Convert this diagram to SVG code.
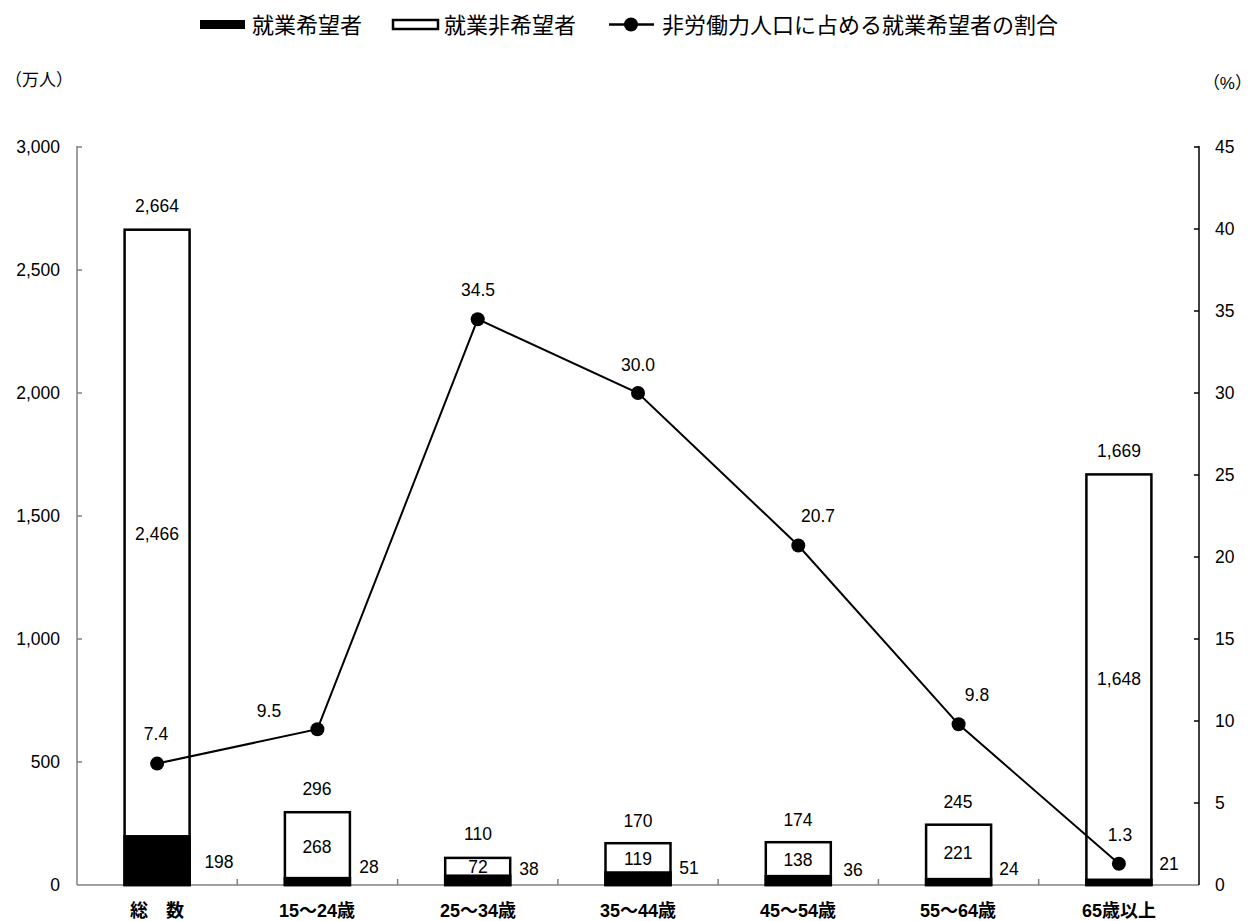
<svg xmlns="http://www.w3.org/2000/svg" width="1252" height="921" viewBox="0 0 1252 921">
<style>
text{font-family:"Liberation Sans","Noto Sans CJK JP",sans-serif;fill:#000}
.n{font-size:17.5px;text-anchor:middle}
.lg{font-size:22px}
.ax{font-size:17.5px;text-anchor:end}
.ar{font-size:17.5px}
.cat{font-size:18px;font-weight:bold;text-anchor:middle}
.unit{font-size:17px}
.bar{fill:#fff;stroke:#000;stroke-width:2.5}
.hope{fill:#000;stroke:#000;stroke-width:2.5}
.tick{stroke:#808080;stroke-width:1.5}
.rtick{stroke:#000;stroke-width:1.5}
</style>
<defs>
<circle id="dot" r="7" fill="#000"/>
</defs>
<rect width="1252" height="921" fill="#fff"/>

<g id="legend">
<rect x="200" y="20" width="45" height="9" fill="#000"/>
<text class="lg" x="252" y="33">就業希望者</text>
<rect x="393" y="20" width="45" height="9" fill="#fff" stroke="#000" stroke-width="2.5"/>
<text class="lg" x="444" y="33">就業非希望者</text>
<line x1="609" y1="24.5" x2="654" y2="24.5" stroke="#000" stroke-width="2.5"/>
<use href="#dot" x="631" y="24.5"/>
<text class="lg" x="662" y="33">非労働力人口に占める就業希望者の割合</text>
</g>

<g id="axes">
<text class="unit" x="5" y="86">（万人）</text>
<text class="unit" x="1252" y="89" text-anchor="end">（%）</text>
<line x1="77" y1="146" x2="77" y2="885" class="tick"/>
<line x1="77" y1="885" x2="1199" y2="885" class="tick"/>
<line x1="1199" y1="146" x2="1199" y2="885" class="rtick"/>
<g class="tick">
<line x1="77" y1="147" x2="82" y2="147"/>
<line x1="77" y1="270" x2="82" y2="270"/>
<line x1="77" y1="393" x2="82" y2="393"/>
<line x1="77" y1="516" x2="82" y2="516"/>
<line x1="77" y1="639" x2="82" y2="639"/>
<line x1="77" y1="762" x2="82" y2="762"/>
<line x1="237.3" y1="885" x2="237.3" y2="879"/>
<line x1="397.6" y1="885" x2="397.6" y2="879"/>
<line x1="557.9" y1="885" x2="557.9" y2="879"/>
<line x1="718.1" y1="885" x2="718.1" y2="879"/>
<line x1="878.4" y1="885" x2="878.4" y2="879"/>
<line x1="1038.7" y1="885" x2="1038.7" y2="879"/>
</g>
<g class="rtick">
<line x1="1194" y1="147" x2="1199" y2="147"/>
<line x1="1194" y1="229" x2="1199" y2="229"/>
<line x1="1194" y1="311" x2="1199" y2="311"/>
<line x1="1194" y1="393" x2="1199" y2="393"/>
<line x1="1194" y1="475" x2="1199" y2="475"/>
<line x1="1194" y1="557" x2="1199" y2="557"/>
<line x1="1194" y1="639" x2="1199" y2="639"/>
<line x1="1194" y1="721" x2="1199" y2="721"/>
<line x1="1194" y1="803" x2="1199" y2="803"/>
</g>
<text class="ax" x="60" y="153">3,000</text>
<text class="ax" x="60" y="276">2,500</text>
<text class="ax" x="60" y="399">2,000</text>
<text class="ax" x="60" y="522">1,500</text>
<text class="ax" x="60" y="645">1,000</text>
<text class="ax" x="60" y="768">500</text>
<text class="ax" x="60" y="891">0</text>
<text class="ar" x="1215" y="153">45</text>
<text class="ar" x="1215" y="235">40</text>
<text class="ar" x="1215" y="317">35</text>
<text class="ar" x="1215" y="399">30</text>
<text class="ar" x="1215" y="481">25</text>
<text class="ar" x="1215" y="563">20</text>
<text class="ar" x="1215" y="645">15</text>
<text class="ar" x="1215" y="727">10</text>
<text class="ar" x="1215" y="809">5</text>
<text class="ar" x="1215" y="891">0</text>
<text class="cat" x="157" y="917">総　数</text>
<text class="cat" x="317" y="917">15～24歳</text>
<text class="cat" x="478" y="917">25～34歳</text>
<text class="cat" x="638" y="917">35～44歳</text>
<text class="cat" x="798" y="917">45～54歳</text>
<text class="cat" x="958" y="917">55～64歳</text>
<text class="cat" x="1119" y="917">65歳以上</text>
</g>

<g id="bar-total">
<rect class="bar" x="124.6" y="229.7" width="65" height="655.3"/>
<rect class="hope" x="124.6" y="836.3" width="65" height="48.7"/>
<text class="n" x="157" y="212">2,664</text>
<text class="n" x="157" y="540">2,466</text>
<text class="n" x="219" y="868">198</text>
</g>
<g id="bar-15-24">
<rect class="bar" x="284.9" y="812.2" width="65" height="72.8"/>
<rect class="hope" x="284.9" y="878.1" width="65" height="6.9"/>
<text class="n" x="317" y="795">296</text>
<text class="n" x="317" y="853">268</text>
<text class="n" x="369" y="873">28</text>
</g>
<g id="bar-25-34">
<rect class="bar" x="445.2" y="857.9" width="65" height="27.1"/>
<rect class="hope" x="445.2" y="875.7" width="65" height="9.3"/>
<text class="n" x="478" y="840">110</text>
<text class="n" x="478" y="873">72</text>
<text class="n" x="529" y="875">38</text>
</g>
<g id="bar-35-44">
<rect class="bar" x="605.5" y="843.2" width="65" height="41.8"/>
<rect class="hope" x="605.5" y="872.5" width="65" height="12.5"/>
<text class="n" x="638" y="827">170</text>
<text class="n" x="638" y="865">119</text>
<text class="n" x="689" y="874">51</text>
</g>
<g id="bar-45-54">
<rect class="bar" x="765.8" y="842.2" width="65" height="42.8"/>
<rect class="hope" x="765.8" y="876.1" width="65" height="8.9"/>
<text class="n" x="798" y="826">174</text>
<text class="n" x="798" y="866">138</text>
<text class="n" x="853" y="876">36</text>
</g>
<g id="bar-55-64">
<rect class="bar" x="926.1" y="824.7" width="65" height="60.3"/>
<rect class="hope" x="926.1" y="879.1" width="65" height="5.9"/>
<text class="n" x="958" y="808">245</text>
<text class="n" x="958" y="859">221</text>
<text class="n" x="1009" y="875">24</text>
</g>
<g id="bar-65">
<rect class="bar" x="1086.4" y="474.4" width="65" height="410.6"/>
<rect class="hope" x="1086.4" y="879.8" width="65" height="5.2"/>
<text class="n" x="1119" y="457">1,669</text>
<text class="n" x="1119" y="685">1,648</text>
<text class="n" x="1169" y="870">21</text>
</g>

<g id="connectors">
<polyline points="157.1,763.6 317.4,729.2 477.7,319.2 638,393 798.3,545.5 958.6,724.3 1118.9,863.7" fill="none" stroke="#000" stroke-width="2"/>
</g>
<g id="ratio-points">
<use href="#dot" x="157.1" y="763.6"/>
<use href="#dot" x="317.4" y="729.2"/>
<use href="#dot" x="477.7" y="319.2"/>
<use href="#dot" x="638" y="393"/>
<use href="#dot" x="798.3" y="545.5"/>
<use href="#dot" x="958.6" y="724.3"/>
<use href="#dot" x="1118.9" y="863.7"/>
<text class="n" x="156" y="740">7.4</text>
<text class="n" x="269" y="717">9.5</text>
<text class="n" x="478" y="296">34.5</text>
<text class="n" x="638" y="371">30.0</text>
<text class="n" x="818" y="522">20.7</text>
<text class="n" x="977" y="701">9.8</text>
<text class="n" x="1120" y="841">1.3</text>
</g>
</svg>
